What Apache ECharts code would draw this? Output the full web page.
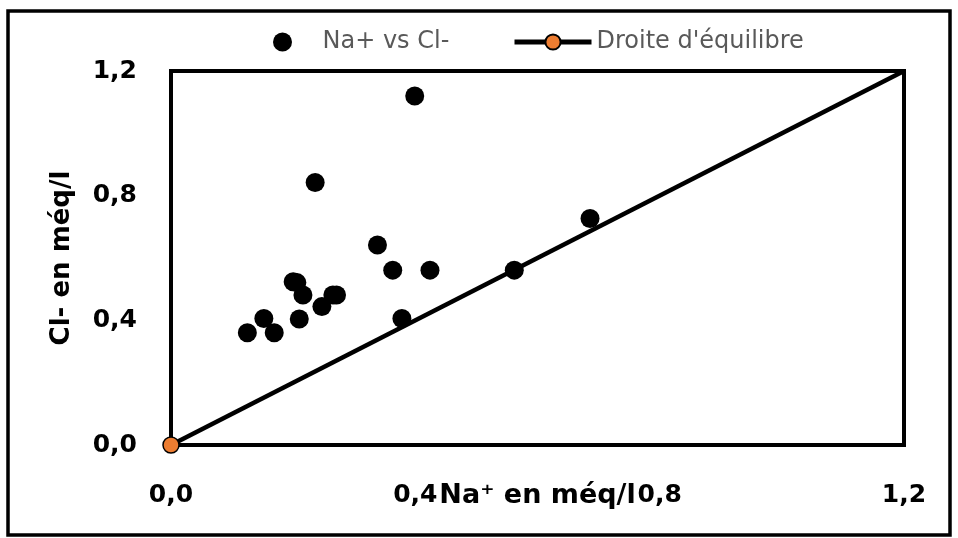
<!DOCTYPE html>
<html lang="fr">
<head>
<meta charset="utf-8">
<title>Na+ vs Cl-</title>
<script src="https://cdn.jsdelivr.net/npm/echarts@6/dist/echarts.min.js"></script>
<style>
  html, body { margin: 0; padding: 0; background: #fff; }
  #chart { width: 958px; height: 538px; }
</style>
</head>
<body>
<div id="chart"></div>
<script>
// Na+ (x) et Cl- (y) en méq/l
var naValues = [0.125, 0.152, 0.169, 0.200, 0.206, 0.216, 0.210, 0.236, 0.247, 0.265, 0.271, 0.338, 0.363, 0.378, 0.399, 0.424, 0.562, 0.686];
var clValues = [0.360, 0.406, 0.360, 0.524, 0.521, 0.481, 0.404, 0.842, 0.444, 0.481, 0.481, 0.642, 0.561, 0.406, 1.120, 0.561, 0.561, 0.727];
// droite d'équilibre y = x
var lineX = [0, 1.2];
var lineY = [0, 1.2];

var nameScatter = 'Na+ vs Cl-';
var nameLine = "Droite d'équilibre";

var scatterData = naValues.map(function (v, i) { return [v, clValues[i]]; });
var lineData = lineX.map(function (v, i) {
  var item = { value: [v, lineY[i]] };
  if (i > 0) item.symbol = 'none';
  return item;
});

function fmt(v) { return v.toFixed(1).replace('.', ','); }

var chart = echarts.init(document.getElementById('chart'));
var labelFont = { fontFamily: 'DejaVu Sans', fontWeight: 'bold', fontSize: 25, color: '#000' };

var option = {
  animation: false,
  backgroundColor: '#fff',
  graphic: [{
    type: 'rect',
    shape: { x: 8, y: 11, width: 942, height: 524 },
    style: { fill: 'none', stroke: '#000', lineWidth: 3.5 },
    silent: true
  }],
  legend: [{
    data: [nameScatter],
    left: 268, top: 25,
    itemWidth: 70, itemHeight: 19,
    textStyle: { fontFamily: 'DejaVu Sans', fontSize: 24, color: '#595959' }
  }, {
    data: [nameLine],
    left: 507, top: 25,
    itemWidth: 77, itemHeight: 19,
    lineStyle: { width: 5 },
    textStyle: { fontFamily: 'DejaVu Sans', fontSize: 24, color: '#595959' }
  }],
  grid: {
    left: 171, right: 54, top: 71, bottom: 93,
    outerBoundsMode: 'none',
    containLabel: false,
    show: true, borderColor: '#000', borderWidth: 4
  },
  xAxis: {
    type: 'value', min: 0, max: 1.2, interval: 0.4,
    name: 'Na⁺ en méq/l', nameLocation: 'middle', nameGap: 37,
    nameMoveOverlap: false,
    nameTextStyle: { fontFamily: 'DejaVu Sans', fontWeight: 'bold', fontSize: 27, color: '#000' },
    axisLine: { lineStyle: { color: '#000', width: 4 } },
    axisTick: { show: false },
    splitLine: { show: false },
    axisLabel: Object.assign({ margin: 38, formatter: fmt }, labelFont)
  },
  yAxis: {
    type: 'value', min: 0, max: 1.2, interval: 0.4,
    name: 'Cl- en méq/l', nameLocation: 'middle', nameGap: 96,
    nameMoveOverlap: false,
    nameTextStyle: { fontFamily: 'DejaVu Sans', fontWeight: 'bold', fontSize: 26, color: '#000' },
    axisLine: { lineStyle: { color: '#000', width: 4 } },
    axisTick: { show: false },
    splitLine: { show: false },
    axisLabel: Object.assign({ margin: 34, formatter: fmt }, labelFont)
  },
  series: [{
    name: nameScatter,
    type: 'scatter',
    data: scatterData,
    symbolSize: 19,
    itemStyle: { color: '#000', opacity: 1 },
    z: 3
  }, {
    name: nameLine,
    type: 'line',
    data: lineData,
    symbol: 'circle',
    symbolSize: 16,
    showSymbol: true,
    lineStyle: { color: '#000', width: 4.5 },
    itemStyle: { color: '#ED7D31', borderColor: '#000', borderWidth: 1.5 },
    clip: false,
    z: 4
  }]
};
chart.setOption(option);
</script>
</body>
</html>
